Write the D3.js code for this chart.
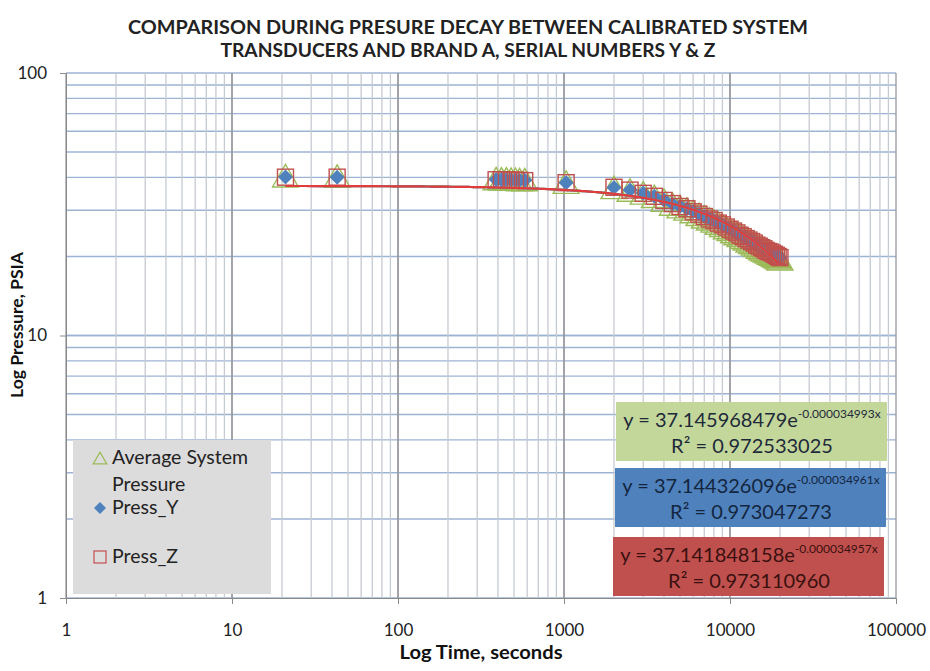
<!DOCTYPE html>
<html>
<head>
<meta charset="utf-8">
<script src="https://cdn.jsdelivr.net/npm/d3@7"></script>
<style>
  body { margin: 0; background: #fff; }
  text { font-family: Lato, "Open Sans", sans-serif; }
</style>
</head>
<body>
<svg width="930" height="671"></svg>
<script>
// temps (s) et pressions
const timeSec = [21, 43, 390, 420, 450, 480, 510, 540, 580, 1030,
  2000, 2500, 3000, 3500, 4000, 4500, 5000, 5500, 6000, 6500,
  7000, 7500, 8000, 8500, 9000, 9500, 10000, 10500, 11000, 11500,
  12000, 12500, 13000, 13500, 14000, 14500, 15000, 15500, 16000, 16500,
  17000, 17500, 18000, 18500, 19000, 19500, 20000];
const avgSystem = [40.0, 39.9, 39.0, 38.9, 38.9, 38.8, 38.8, 38.7, 38.7, 37.8,
  36.1, 35.3, 34.4, 33.4, 32.3, 31.2, 30.5, 29.9, 29.2, 28.5,
  27.9, 27.4, 26.9, 26.4, 25.9, 25.4, 25.0, 24.5, 24.1, 23.7,
  23.3, 23.0, 22.6, 22.3, 22.0, 21.7, 21.4, 21.1, 20.9, 20.7,
  20.5, 20.3, 20.1, 19.9, 19.7, 19.5, 19.3];
const pressY = [40.2, 40.1, 39.3, 39.2, 39.2, 39.1, 39.1, 39.0, 39.0, 38.2,
  36.6, 35.8, 34.9, 33.9, 32.8, 31.7, 31.1, 30.4, 29.7, 29.0,
  28.4, 27.9, 27.4, 26.9, 26.4, 25.9, 25.5, 25.0, 24.6, 24.2,
  23.8, 23.5, 23.1, 22.8, 22.5, 22.2, 21.9, 21.6, 21.4, 21.2,
  21.0, 20.8, 20.6, 20.4, 20.2, 20.0, 19.8];
const pressZ = [40.1, 40.1, 39.2, 39.2, 39.1, 39.1, 39.0, 39.0, 38.9, 38.2,
  36.7, 35.8, 34.8, 33.9, 32.7, 31.8, 31.0, 30.4, 29.6, 29.0,
  28.4, 27.8, 27.4, 26.8, 26.4, 25.9, 25.4, 25.0, 24.6, 24.1,
  23.8, 23.4, 23.1, 22.8, 22.5, 22.1, 21.9, 21.6, 21.4, 21.1,
  20.9, 20.8, 20.6, 20.4, 20.2, 20.0, 19.8];

// courbes de tendance exponentielles (vert = moyenne, bleu = Y, rouge = Z)
const trendA = ["37.145968479", "37.144326096", "37.141848158"];
const trendB = ["0.000034993", "0.000034961", "0.000034957"];
const trendR2 = ["0.972533025", "0.973047273", "0.973110960"];

const xTicks = [1, 10, 100, 1000, 10000, 100000];
const yTicks = [1, 10, 100];

const svg = d3.select("svg");

const x = d3.scaleLog().domain([1, 100000]).range([66, 896]);
const y = d3.scaleLog().domain([1, 100]).range([598, 73]);

// titre
svg.append("text")
  .attr("x", 468).attr("y", 34)
  .attr("text-anchor", "middle")
  .attr("font-size", 19).attr("font-weight", "bold").attr("fill", "#222")
  .attr("textLength", 680).attr("lengthAdjust", "spacingAndGlyphs")
  .text("COMPARISON DURING PRESURE DECAY BETWEEN CALIBRATED SYSTEM");
svg.append("text")
  .attr("x", 468).attr("y", 57)
  .attr("text-anchor", "middle")
  .attr("font-size", 19).attr("font-weight", "bold").attr("fill", "#222")
  .attr("textLength", 495).attr("lengthAdjust", "spacingAndGlyphs")
  .text("TRANSDUCERS AND BRAND A, SERIAL NUMBERS Y & Z");

// quadrillage (1..9 par décade)
const minorX = [], minorY = [];
for (let p = 1; p <= 10000; p *= 10) for (let k = 1; k <= 10; k++) minorX.push(p * k);
for (let p = 1; p <= 10; p *= 10) for (let k = 1; k <= 10; k++) minorY.push(p * k);

const grid = svg.append("g");
grid.selectAll("line.h")
  .data(minorY)
  .enter().append("line")
  .attr("x1", 66).attr("x2", 896)
  .attr("y1", d => y(d)).attr("y2", d => y(d))
  .attr("stroke", "#9db3d3").attr("stroke-width", 1.3);
grid.selectAll("line.v")
  .data(minorX)
  .enter().append("line")
  .attr("y1", 73).attr("y2", 598)
  .attr("x1", d => x(d)).attr("x2", d => x(d))
  .attr("stroke", d => xTicks.includes(d) ? "#97979f" : "#c6cad2")
  .attr("stroke-width", 1.3);

// axes
const xAxis = svg.append("g")
  .attr("transform", "translate(0,598)")
  .call(d3.axisBottom(x).tickValues(xTicks).tickFormat(d3.format("d")).tickSize(6).tickPadding(20));
const yAxis = svg.append("g")
  .attr("transform", "translate(66,0)")
  .call(d3.axisLeft(y).tickValues(yTicks).tickFormat(d3.format("d")).tickSize(6).tickPadding(13));
[xAxis, yAxis].forEach(a => {
  a.select(".domain").attr("stroke", "#8a8a8a");
  a.selectAll(".tick line").attr("stroke", "#8a8a8a");
  a.selectAll(".tick text").attr("font-size", 17).attr("fill", "#222")
    .attr("font-family", "Lato, sans-serif");
});

svg.append("text")
  .attr("x", 481).attr("y", 659)
  .attr("text-anchor", "middle")
  .attr("font-size", 19).attr("font-weight", "bold").attr("fill", "#111")
  .attr("textLength", 163).attr("lengthAdjust", "spacingAndGlyphs")
  .text("Log Time, seconds");
svg.append("text")
  .attr("transform", "translate(23,325) rotate(-90)")
  .attr("text-anchor", "middle")
  .attr("font-size", 17).attr("font-weight", "bold").attr("fill", "#111")
  .attr("textLength", 146).attr("lengthAdjust", "spacingAndGlyphs")
  .text("Log Pressure, PSIA");

// séries
const tri = d3.symbol().type(d3.symbolTriangle).size(290);
const diamondPath = s => `M0,${-s}L${s},0L0,${s}L${-s},0Z`;

svg.append("g").selectAll("path")
  .data(timeSec.map((t, i) => [t, avgSystem[i]]))
  .enter().append("path")
  .attr("d", tri)
  .attr("transform", d => `translate(${x(d[0])},${y(d[1]) + 2})`)
  .attr("fill", "none").attr("stroke", "#9bbb59").attr("stroke-width", 1.4);

svg.append("g").selectAll("path")
  .data(timeSec.map((t, i) => [t, pressY[i]]))
  .enter().append("path")
  .attr("d", diamondPath(7.5))
  .attr("transform", d => `translate(${x(d[0])},${y(d[1])})`)
  .attr("fill", "#4f81bd");

svg.append("g").selectAll("rect")
  .data(timeSec.map((t, i) => [t, pressZ[i]]))
  .enter().append("rect")
  .attr("x", d => x(d[0]) - 8).attr("y", d => y(d[1]) - 8)
  .attr("width", 16).attr("height", 16)
  .attr("fill", "none").attr("stroke", "#c0504d").attr("stroke-width", 1.4);

// tendances : y = a·e^(-b·t), tracées sur l'étendue des temps
const tGrid = d3.range(0, 201).map(i => 21 * Math.pow(20000 / 21, i / 200));
const trendColors = ["#9bbb59", "#4f81bd", "#e23b3b"];
trendA.forEach((a, k) => {
  const line = d3.line()
    .x(t => x(t))
    .y(t => y(+a * Math.exp(-trendB[k] * t)));
  svg.append("path")
    .datum(tGrid)
    .attr("d", line)
    .attr("fill", "none")
    .attr("stroke", trendColors[k])
    .attr("stroke-width", 2.2);
});

// légende
const legend = svg.append("g");
legend.append("rect")
  .attr("x", 73).attr("y", 440).attr("width", 198).attr("height", 154)
  .attr("fill", "#dcdcdc");
const legItems = [
  { label: ["Average System", "Pressure"], y: 458 },
  { label: ["Press_Y"], y: 508 },
  { label: ["Press_Z"], y: 557 }
];
legend.append("path")
  .attr("d", d3.symbol().type(d3.symbolTriangle).size(80))
  .attr("transform", "translate(100,460)")
  .attr("fill", "none").attr("stroke", "#9bbb59").attr("stroke-width", 1.2);
legend.append("path")
  .attr("d", diamondPath(6))
  .attr("transform", "translate(100,508)")
  .attr("fill", "#4f81bd");
legend.append("rect")
  .attr("x", 94).attr("y", 551).attr("width", 12).attr("height", 12)
  .attr("fill", "none").attr("stroke", "#c0504d").attr("stroke-width", 1.2);
legItems.forEach(it => {
  it.label.forEach((s, j) => {
    legend.append("text")
      .attr("x", 112).attr("y", it.y + 6 + j * 27)
      .attr("font-size", 19.5).attr("fill", "#222")
      .text(s);
  });
});

// étiquettes d'équation
const boxes = [
  { x: 616, y: 402, fill: "#c4d79b", ink: "#1e2a3a" },
  { x: 615, y: 468, fill: "#4f81bd", ink: "#13263f" },
  { x: 613, y: 537, fill: "#c0504d", ink: "#3a1010" }
];
boxes.forEach((b, k) => {
  svg.append("rect")
    .attr("x", b.x).attr("y", b.y).attr("width", 271).attr("height", 59)
    .attr("fill", b.fill);
  const cx = b.x + 136;
  const t1 = svg.append("text")
    .attr("x", cx).attr("y", b.y + 25)
    .attr("text-anchor", "middle").attr("fill", b.ink).attr("font-size", 20);
  t1.append("tspan").text(`y = ${trendA[k]}e`);
  t1.append("tspan").attr("dy", -9).attr("font-size", 12).text(`-${trendB[k]}x`);
  svg.append("text")
    .attr("x", cx).attr("y", b.y + 51)
    .attr("text-anchor", "middle").attr("fill", b.ink).attr("font-size", 20)
    .text(`R² = ${trendR2[k]}`);
});
</script>
</body>
</html>
